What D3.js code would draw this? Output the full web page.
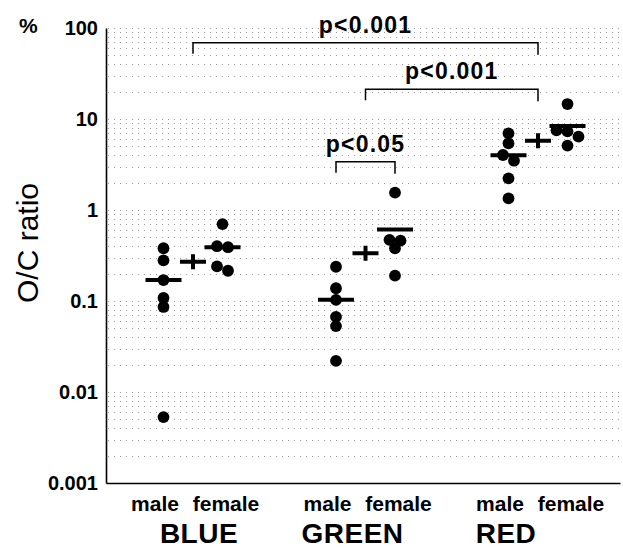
<!DOCTYPE html>
<html>
<head>
<meta charset="utf-8">
<script src="https://cdn.jsdelivr.net/npm/d3@7"></script>
<style>
  body { margin: 0; background: #fff; }
  svg { display: block; font-family: "Liberation Sans", Arial, Helvetica, sans-serif; }
</style>
</head>
<body>
<svg id="chart"></svg>
<script>
"use strict";

const groups = ["BLUE", "GREEN", "RED"];
const sexes = ["male", "female"];

// O/C ratio (%) per animal
const blueMale = [0.38, 0.28, 0.17, 0.108, 0.086, 0.0053];
const blueFemale = [0.7, 0.4, 0.39, 0.24, 0.215];
const greenMale = [0.238, 0.138, 0.103, 0.067, 0.053, 0.022];
const greenFemale = [1.55, 0.47, 0.46, 0.38, 0.19];
const redMale = [6.96, 5.41, 4.02, 3.48, 2.23, 1.34];
const redFemale = [14.6, 7.5, 7.3, 6.4, 5.1];

// bar per column (male, female) and cross per colour
const blueBars = [0.17, 0.39];
const greenBars = [0.103, 0.61];
const redBars = [4.0, 8.4];
const groupMeans = [0.27, 0.334, 5.78];

const yTicks = [0.001, 0.01, 0.1, 1, 10, 100];
const yTickLabels = ["0.001", "0.01", "0.1", "1", "10", "100"];

// significance brackets: [group, column] ends, bracket height (O/C value), label
const compFrom = [["BLUE", "mean"], ["GREEN", "mean"], ["GREEN", "male"]];
const compTo = [["RED", "mean"], ["RED", "mean"], ["GREEN", "female"]];
const compLevel = [69, 21.2, 3.4];
const compLabels = ["p<0.001", "p<0.001", "p<0.05"];

const width = 623;
const height = 548;

const svg = d3.select("#chart").attr("width", width).attr("height", height);

const y = d3.scaleLog().domain([0.001, 100]).range([483, 28]);
const xGroup = d3.scalePoint().domain(groups).range([193, 538]);
const xSex = d3.scalePoint().domain(sexes).range([-29.5, 29.5]);
const xGroupLabel = d3.scalePoint().domain(groups).range([199, 506]);
const xPlot = d3.scaleLinear().range([106, 620]);

const colX = (g, c) => xGroup(g) + (c === "mean" ? 0 : xSex(c));

// dotted grid at every 1..9 of each decade
const gridValues = [];
yTicks.slice(0, -1).forEach((d) => {
  for (let m = 1; m <= 9; m++) gridValues.push(d * m);
});
gridValues.push(100);

svg
  .append("g")
  .selectAll("line")
  .data(gridValues.slice(1))
  .enter()
  .append("line")
  .attr("x1", 108)
  .attr("x2", 620)
  .attr("y1", (d) => Math.round(y(d)) + 0.5)
  .attr("y2", (d) => Math.round(y(d)) + 0.5)
  .attr("stroke", "#9a9a9a")
  .attr("stroke-width", 1)
  .attr("stroke-dasharray", "1 5");

// axes
const yAxis = d3
  .axisLeft(y)
  .tickValues(yTicks)
  .tickFormat((d, i) => yTickLabels[i])
  .tickSize(0)
  .tickPadding(8);

const gy = svg.append("g").attr("transform", "translate(106,0)").call(yAxis);
gy.select(".domain").attr("stroke", "#000").attr("stroke-width", 1.6);
gy.selectAll("text")
  .attr("font-size", 20)
  .attr("font-weight", "bold")
  .attr("font-family", "Liberation Sans, Arial, sans-serif")
  .attr("fill", "#000");

const gx = svg
  .append("g")
  .attr("transform", "translate(0,483)")
  .call(d3.axisBottom(xPlot).tickValues([]).tickSizeOuter(0));
gx.select(".domain").attr("stroke", "#000").attr("stroke-width", 1.6);

// x labels
const sexLabels = [];
groups.forEach((g) => sexes.forEach((s) => sexLabels.push({ g, s })));

svg
  .append("g")
  .selectAll("text")
  .data(sexLabels)
  .enter()
  .append("text")
  .attr("x", (d) => xGroup(d.g) + (d.s === "male" ? -38 : 33))
  .attr("y", 511)
  .attr("text-anchor", "middle")
  .attr("font-size", 21)
  .attr("font-weight", "bold")
  .text((d) => d.s);

svg
  .append("g")
  .selectAll("text")
  .data(groups)
  .enter()
  .append("text")
  .attr("x", (d) => xGroupLabel(d))
  .attr("y", 543)
  .attr("text-anchor", "middle")
  .attr("font-size", 28)
  .attr("font-weight", "bold")
  .attr("letter-spacing", 0.5)
  .text((d) => d);

// axis titles
svg
  .append("text")
  .attr("transform", "translate(38,243) rotate(-90)")
  .attr("text-anchor", "middle")
  .attr("font-size", 30)
  .text("O/C ratio");

svg
  .append("text")
  .attr("x", 19)
  .attr("y", 33)
  .attr("font-size", 21)
  .attr("font-weight", "bold")
  .text("%");

// dots, points with near-equal values share a row
const columns = [
  ["BLUE", "male", blueMale],
  ["BLUE", "female", blueFemale],
  ["GREEN", "male", greenMale],
  ["GREEN", "female", greenFemale],
  ["RED", "male", redMale],
  ["RED", "female", redFemale],
];

const points = [];
columns.forEach(([g, s, values]) => {
  const sorted = values.slice().sort((a, b) => b - a);
  let row = [];
  const flush = () => {
    row.forEach((v, i) => {
      points.push({ x: colX(g, s) + (i - (row.length - 1) / 2) * 11, v });
    });
    row = [];
  };
  sorted.forEach((v) => {
    if (row.length && y(v) - y(row[row.length - 1]) > 6) flush();
    row.push(v);
  });
  flush();
});

svg
  .append("g")
  .selectAll("circle")
  .data(points)
  .enter()
  .append("circle")
  .attr("cx", (d) => d.x)
  .attr("cy", (d) => y(d.v))
  .attr("r", 5.9)
  .attr("fill", "#000");

// bars
const bars = [];
[blueBars, greenBars, redBars].forEach((b, gi) => {
  sexes.forEach((s, si) => bars.push({ g: groups[gi], s, v: b[si] }));
});

svg
  .append("g")
  .selectAll("line")
  .data(bars)
  .enter()
  .append("line")
  .attr("x1", (d) => colX(d.g, d.s) - 18)
  .attr("x2", (d) => colX(d.g, d.s) + 18)
  .attr("y1", (d) => y(d.v))
  .attr("y2", (d) => y(d.v))
  .attr("stroke", "#000")
  .attr("stroke-width", 4);

// mean crosses
svg
  .append("g")
  .selectAll("path")
  .data(groupMeans)
  .enter()
  .append("path")
  .attr("d", (d, i) => {
    const cx = xGroup(groups[i]);
    const cy = y(d);
    return `M${cx - 13},${cy}H${cx + 13}M${cx},${cy - 7.5}V${cy + 7.5}`;
  })
  .attr("stroke", "#000")
  .attr("stroke-width", 4)
  .attr("fill", "none");

// significance brackets
const brackets = svg.append("g");
compLabels.forEach((label, i) => {
  const x1 = colX(compFrom[i][0], compFrom[i][1]);
  const x2 = colX(compTo[i][0], compTo[i][1]);
  const top = y(compLevel[i]);
  brackets
    .append("path")
    .attr("d", `M${x1},${top + 11}V${top}H${x2}V${top + 12}`)
    .attr("fill", "none")
    .attr("stroke", "#000")
    .attr("stroke-width", 1.5);
  brackets
    .append("text")
    .attr("x", (x1 + x2) / 2)
    .attr("y", top - 10)
    .attr("text-anchor", "middle")
    .attr("font-size", 23)
    .attr("font-weight", "bold")
    .attr("letter-spacing", 1.2)
    .text(label);
});
</script>
</body>
</html>
